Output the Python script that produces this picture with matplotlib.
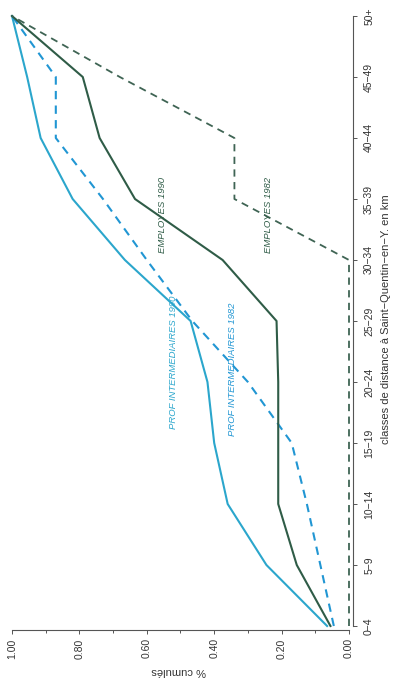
import matplotlib
matplotlib.use("Agg")
import matplotlib.pyplot as plt
from matplotlib.ticker import MultipleLocator
import numpy as np

plt.rcParams["font.family"] = ["Liberation Sans Narrow", "Liberation Sans", "DejaVu Sans"]

# ── Data ────────────────────────────────────────────────────────────────────
classes = ["0−4", "5−9", "10−14", "15−19", "20−24", "25−29",
           "30−34", "35−39", "40−44", "45−49", "50+"]
prof_1990 = [0.065, 0.245, 0.36, 0.40, 0.42, 0.47, 0.665, 0.82, 0.915, 0.955, 1.00]
prof_1982 = [0.045, 0.085, 0.125, 0.17, 0.30, 0.465, 0.60, 0.73, 0.87, 0.87, 1.00]
empl_1990 = [0.055, 0.155, 0.21, 0.21, 0.21, 0.215, 0.375, 0.635, 0.74, 0.79, 1.00]
empl_1982 = [0.00, 0.00, 0.00, 0.00, 0.00, 0.00, 0.00, 0.34, 0.34, 0.68, 1.00]
value_ticks = [0.0, 0.2, 0.4, 0.6, 0.8, 1.0]

CYAN = "#2ba6cc"
BLUE = "#2196d3"
GREEN = "#2f5c47"
GREEN_D = "#3f6454"

W, H = 396, 684
fig = plt.figure(figsize=(W / 100, H / 100), dpi=100)
# axes in pixel coords: left 5, right 353, top 8, bottom 630
ax = fig.add_axes([5 / W, (H - 630) / H, (353 - 5) / W, (630 - 8) / H])

# chart is drawn rotated: value on x (1 at left), classes on y (bottom to top)
y = np.arange(len(classes))
ax.plot(prof_1990, y, color=CYAN, lw=1.5)
ax.plot(prof_1982, y, color=BLUE, lw=1.5, ls=(0, (4, 3)))
ax.plot(empl_1990, y, color=GREEN, lw=1.5)
ax.plot(empl_1982, y, color=GREEN_D, lw=1.3, ls=(0, (4, 3)))

ax.set_xlim(1 + 7 / 337, -4 / 337)
ax.set_ylim(-4 / 61, 10 + 8 / 61)

for s in ["top", "left"]:
    ax.spines[s].set_visible(False)
ax.spines["bottom"].set_bounds(0, 1)
ax.spines["right"].set_bounds(0, 10)
for s in ["bottom", "right"]:
    ax.spines[s].set_color("#555555")
    ax.spines[s].set_linewidth(0.8)

ax.yaxis.tick_right()
ax.yaxis.set_label_position("right")
ax.set_yticks(y)
ax.set_yticklabels(classes, rotation=90, va="center", fontsize=7.5, color="#333333")
ax.set_xticks(value_ticks)
ax.set_xticklabels([f"{v:.2f}" for v in value_ticks], rotation=90, fontsize=7.5,
                   color="#333333")
ax.xaxis.set_minor_locator(MultipleLocator(0.1))
ax.tick_params(axis="both", which="both", direction="out", length=3, width=0.7,
               color="#555555", pad=3)
ax.tick_params(axis="y", pad=5)
ax.tick_params(axis="x", which="minor", length=2)

ax.set_ylabel("classes de distance à Saint−Quentin−en−Y. en km", rotation=90,
              fontsize=8, color="#333333", labelpad=5)
ax.set_xlabel("% cumulés", rotation=180, fontsize=8, color="#333333", labelpad=5)

# series annotations (rotated like the rest of the chart)
ax.text(0.522, 4.33, "PROF INTERMEDIAIRES 1990", rotation=90, color=CYAN,
        fontsize=6.8, style="italic", ha="center", va="center")
ax.text(0.347, 4.2, "PROF INTERMEDIAIRES 1982", rotation=90, color=BLUE,
        fontsize=6.8, style="italic", ha="center", va="center")
ax.text(0.552, 6.74, "EMPLOYES 1990", rotation=90, color=GREEN,
        fontsize=6.8, style="italic", ha="center", va="center")
ax.text(0.24, 6.74, "EMPLOYES 1982", rotation=90, color=GREEN,
        fontsize=6.8, style="italic", ha="center", va="center")

fig.savefig("out.png", dpi=100)
